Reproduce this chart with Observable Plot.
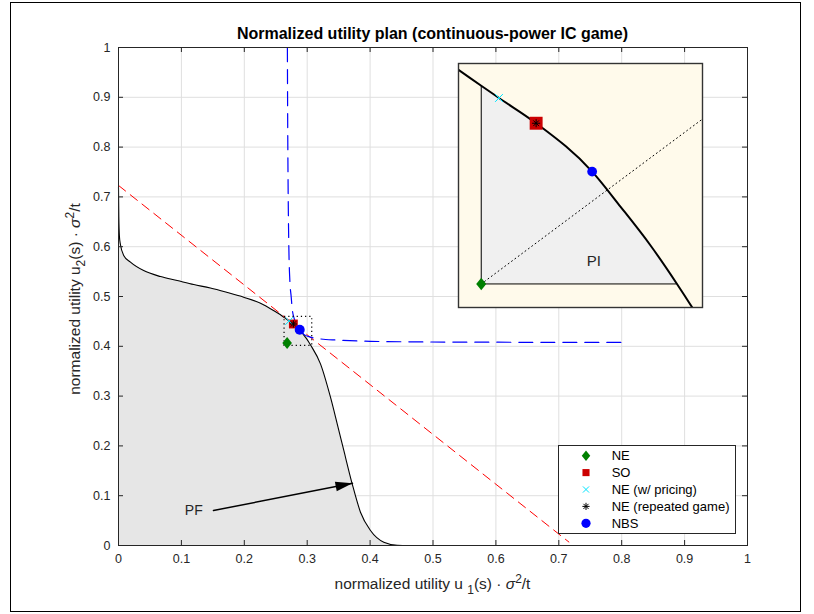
<!DOCTYPE html>
<html><head><meta charset="utf-8">
<script src="https://cdn.jsdelivr.net/npm/d3@7"></script>
<script src="https://cdn.jsdelivr.net/npm/@observablehq/plot@0.6"></script>
<style>
body{margin:0;background:#fff;font-family:"Liberation Sans",Arial,Helvetica,sans-serif;}
#wrap{position:relative;width:814px;height:614px;overflow:hidden;background:#fff;}
#frame{position:absolute;left:10px;top:2px;width:791px;height:610px;border:1.5px solid #000;box-sizing:border-box;pointer-events:none;}
#inset{position:absolute;left:458px;top:63px;width:244px;height:244px;}
#legend{position:absolute;left:558px;top:445px;}
#wrap svg{overflow:visible;}
</style></head><body><div id="wrap"><div id="main"></div><div id="inset"></div><div id="legend"></div><div id="frame"></div></div>
<script>
// ---------------- data ----------------
const ticks = [0, 0.1, 0.2, 0.3, 0.4, 0.5, 0.6, 0.7, 0.8, 0.9, 1];
// Pareto frontier (black curve)
const pfU1 = [0, 0.0005, 0.0015, 0.003, 0.0085, 0.019, 0.040, 0.0668, 0.0933, 0.1197, 0.146, 0.173, 0.199, 0.2258, 0.2523, 0.2590, 0.2640, 0.2681, 0.2713, 0.2780, 0.2881, 0.2932, 0.2986, 0.3034, 0.3061, 0.3211, 0.3370, 0.3477, 0.3582, 0.3715, 0.3847, 0.4006, 0.4218, 0.4430, 0.4600, 0.5300];
const pfU2 = [0.72, 0.66, 0.62, 0.605, 0.582, 0.569, 0.552, 0.540, 0.532, 0.524, 0.517, 0.508, 0.4986, 0.4866, 0.4672, 0.4620, 0.4575, 0.4537, 0.4508, 0.4448, 0.4333, 0.4250, 0.4158, 0.4066, 0.4011, 0.3648, 0.2978, 0.2444, 0.1908, 0.1239, 0.0669, 0.0301, 0.0066, 0.0005, 0, 0];
// Nash product level curve (blue dashed)
const nashU1 = [0.2685, 0.2688, 0.2692, 0.2698, 0.2708, 0.2725, 0.2745, 0.2762, 0.2790, 0.2830, 0.2881, 0.2946, 0.3050, 0.3200, 0.3477, 0.4000, 0.4800, 0.6000, 0.7000, 0.8000];
const nashU2 = [1.0, 0.9, 0.8, 0.7, 0.6, 0.53, 0.50, 0.475, 0.457, 0.443, 0.4333, 0.4240, 0.4185, 0.4150, 0.4125, 0.4100, 0.4088, 0.4082, 0.4079, 0.4077];
// social-welfare line u1 + u2 = const (red dashed)
const sumU1 = [0, 0.716];
const sumU2 = [0.723, 0.007];
// solution points
const pointNames = ["NE", "SO", "NE (w/ pricing)", "NE (repeated game)", "NBS"];
const pointU1 = [0.2681, 0.2780, 0.2713, 0.2780, 0.2881];
const pointU2 = [0.4066, 0.4448, 0.4508, 0.4448, 0.4333];
// zoom window (dotted box / inset limits)
const zoomU1 = [0.264, 0.308];
const zoomU2 = [0.401, 0.459];
// 45-degree line from the disagreement point (inset, dotted)
const diagU1 = [0.2681, 0.3079];
const diagU2 = [0.4066, 0.4457];
// PF annotation arrow
const arrowU1 = [0.151, 0.372];
const arrowU2 = [0.0703, 0.1251];
const pfLabelAt = [0.1197, 0.0703];
const piLabelAt = [0.2884, 0.4121];

// ---------------- layout ----------------
const W = 814, H = 614, mL = 118, mR = 67, mT = 47, mB = 69;
const fw = W - mL - mR, fh = H - mT - mB;
const FONT = "Liberation Sans, Arial, Helvetica, sans-serif";
const TXT = "#262626";

const pf = pfU1.map((u, i) => ({u1: u, u2: pfU2[i]}));
const nash = nashU1.map((u, i) => ({u1: u, u2: nashU2[i]}));
const sumLine = sumU1.map((u, i) => ({u1: u, u2: sumU2[i]}));
const pts = pointNames.map((n, i) => ({name: n, u1: pointU1[i], u2: pointU2[i]}));
const arrowPts = arrowU1.map((u, i) => ({u1: u, u2: arrowU2[i]}));
const diag = diagU1.map((u, i) => ({u1: u, u2: diagU2[i]}));
const box = [{x1: zoomU1[0], x2: zoomU1[1], y1: zoomU2[0], y2: zoomU2[1]}];

const matDiamond = {draw(ctx, size) {
  const r = Math.sqrt(size / Math.PI), w = r * 0.8;
  ctx.moveTo(0, -r); ctx.lineTo(w, 0); ctx.lineTo(0, r); ctx.lineTo(-w, 0); ctx.closePath();
}};
const matAsterisk = {draw(ctx, size) {
  const r = Math.sqrt(size / Math.PI), d = r * 0.7071;
  ctx.moveTo(-r, 0); ctx.lineTo(r, 0);
  ctx.moveTo(0, -r); ctx.lineTo(0, r);
  ctx.moveTo(-d, -d); ctx.lineTo(d, d);
  ctx.moveTo(-d, d); ctx.lineTo(d, -d);
}};
const theta = Math.atan2(-(arrowU2[1] - arrowU2[0]) * fh, (arrowU1[1] - arrowU1[0]) * fw);
const arrowHead = {draw(ctx) {
  const L = 17, hw = 4.8, c = Math.cos(theta), s = Math.sin(theta);
  const bx = -L * c, by = -L * s;
  ctx.moveTo(0, 0); ctx.lineTo(bx - hw * s, by + hw * c); ctx.lineTo(bx + hw * s, by - hw * c); ctx.closePath();
}};

const styles = {
  "NE": {symbol: matDiamond, fill: "#008000", stroke: "none"},
  "SO": {symbol: "square", fill: "#cc0000", stroke: "none"},
  "NE (w/ pricing)": {symbol: "times", fill: "none", stroke: "#00e5ff"},
  "NE (repeated game)": {symbol: matAsterisk, fill: "none", stroke: "#000"},
  "NBS": {symbol: "circle", fill: "#0000ff", stroke: "none"}
};
const sizeMain = {"NE": 6.0, "SO": 5.0, "NE (w/ pricing)": 3.6, "NE (repeated game)": 3.6, "NBS": 5.0};
const sizeInset = {"NE": 6.3, "SO": 7.3, "NE (w/ pricing)": 3.6, "NE (repeated game)": 4.0, "NBS": 4.9};

function markerMarks(sizes) {
  return pts.map(p => Plot.dot([p], {x: "u1", y: "u2", r: sizes[p.name], strokeWidth: 1, ...styles[p.name]}));
}

// ---------------- main plot ----------------
const main = Plot.plot({
  width: W, height: H, marginLeft: mL, marginRight: mR, marginTop: mT, marginBottom: mB,
  style: {fontFamily: FONT, fontSize: "12.5px", color: TXT, background: "transparent"},
  x: {domain: [0, 1], axis: null},
  y: {domain: [0, 1], axis: null},
  marks: [
    Plot.gridX(ticks, {stroke: "#dfdfdf", strokeOpacity: 1}),
    Plot.gridY(ticks, {stroke: "#dfdfdf", strokeOpacity: 1}),
    Plot.areaY(pf, {x: "u1", y: "u2", fill: "#e6e6e6", curve: "monotone-x"}),
    Plot.line(pf, {x: "u1", y: "u2", stroke: "#000", strokeWidth: 1.1, curve: "monotone-x"}),
    Plot.line(sumLine, {x: "u1", y: "u2", stroke: "#ff0000", strokeWidth: 1, strokeDasharray: "9,6"}),
    Plot.line(nash, {x: "u1", y: "u2", stroke: "#0000ff", strokeWidth: 1.2, strokeDasharray: "14,8", curve: "monotone-x"}),
    Plot.rect(box, {x1: "x1", x2: "x2", y1: "y1", y2: "y2", fill: "none", stroke: "#000", strokeWidth: 1.2, strokeDasharray: "1.2,3"}),
    Plot.line(arrowPts, {x: "u1", y: "u2", stroke: "#000", strokeWidth: 1.5}),
    Plot.dot([arrowPts[1]], {x: "u1", y: "u2", symbol: arrowHead, fill: "#000", stroke: "none", r: 5}),
    Plot.text([pfLabelAt], {x: d => d[0], y: d => d[1], text: () => "PF", fontSize: 14, fill: TXT, textAnchor: "middle"}),
    ...markerMarks(sizeMain),
    Plot.frame({stroke: TXT, strokeWidth: 1}),
    Plot.tickX(ticks, {x: d => d, insetTop: fh - 5, stroke: TXT}),
    Plot.tickX(ticks, {x: d => d, insetBottom: fh - 5, stroke: TXT}),
    Plot.tickY(ticks, {y: d => d, insetRight: fw - 5, stroke: TXT}),
    Plot.tickY(ticks, {y: d => d, insetLeft: fw - 5, stroke: TXT}),
    Plot.axisX(ticks, {tickSize: 0, tickPadding: 9, tickFormat: d => String(d), label: null, fill: TXT}),
    Plot.axisY(ticks, {tickSize: 0, tickPadding: 8, tickFormat: d => String(d), label: null, fill: TXT})
  ]
});
document.getElementById("main").appendChild(main);

const sv = d3.select(main);
sv.append("text").attr("x", mL + fw / 2).attr("y", 39).attr("text-anchor", "middle")
  .attr("font-family", FONT).attr("font-size", 16).attr("font-weight", "bold").attr("fill", "#000")
  .text("Normalized utility plan (continuous-power IC game)");

const xl = sv.append("text").attr("x", mL + fw / 2).attr("y", 589).attr("text-anchor", "middle")
  .attr("font-family", FONT).attr("font-size", 15.5).attr("fill", TXT);
xl.append("tspan").text("normalized utility u ");
xl.append("tspan").attr("dy", 5).attr("font-size", 12).text("1");
xl.append("tspan").attr("dy", -5).text("(s) \u00b7 ");
xl.append("tspan").attr("font-style", "italic").text("\u03c3");
xl.append("tspan").attr("dy", -6).attr("font-size", 12).text("2");
xl.append("tspan").attr("dy", 6).text("/t");

const yl = sv.append("text").attr("transform", `translate(80,${mT + fh / 2 + 3}) rotate(-90)`).attr("text-anchor", "middle")
  .attr("font-family", FONT).attr("font-size", 15.5).attr("fill", TXT);
yl.append("tspan").text("normalized utility u");
yl.append("tspan").attr("dy", 5).attr("font-size", 12).text("2");
yl.append("tspan").attr("dy", -5).text("(s) \u00b7 ");
yl.append("tspan").attr("font-style", "italic").text("\u03c3");
yl.append("tspan").attr("dy", -6).attr("font-size", 12).text("2");
yl.append("tspan").attr("dy", 6).text("/t");

// ---------------- inset ----------------
const ne = pts[0];
const piPts = pf.filter(d => d.u1 >= ne.u1 && d.u2 >= ne.u2);
const inset = Plot.plot({
  width: 244, height: 244, margin: 0,
  style: {fontFamily: FONT, background: "#fffaeb", color: TXT},
  x: {domain: zoomU1, axis: null},
  y: {domain: zoomU2, axis: null},
  marks: [
    Plot.areaY(piPts, {x: "u1", y1: ne.u2, y2: "u2", fill: "#f0f0f0", curve: "monotone-x"}),
    Plot.ruleX([ne.u1], {y1: ne.u2, y2: piPts[0].u2, stroke: "#000", strokeWidth: 1}),
    Plot.ruleY([ne.u2], {x1: ne.u1, x2: piPts[piPts.length - 1].u1, stroke: "#000", strokeWidth: 1}),
    Plot.line(diag, {x: "u1", y: "u2", stroke: "#000", strokeWidth: 1, strokeDasharray: "1,3.2"}),
    Plot.line(pf, {x: "u1", y: "u2", stroke: "#000", strokeWidth: 2, curve: "monotone-x", clip: true}),
    Plot.text([piLabelAt], {x: d => d[0], y: d => d[1], text: () => "PI", fontSize: 15, fill: TXT, textAnchor: "middle"}),
    ...markerMarks(sizeInset),
    Plot.frame({stroke: "#333", strokeWidth: 1.4})
  ]
});
document.getElementById("inset").appendChild(inset);

// ---------------- legend ----------------
const lg = d3.select("#legend").append("svg").attr("width", 178).attr("height", 89);
lg.append("rect").attr("x", 0.5).attr("y", 0.5).attr("width", 177).attr("height", 88)
  .attr("fill", "#fff").attr("stroke", TXT);
const legSize = {"NE": 5.3, "SO": 4.0, "NE (w/ pricing)": 2.9, "NE (repeated game)": 3.6, "NBS": 4.6};
const symMap = {square: d3.symbolSquare, times: d3.symbolTimes, circle: d3.symbolCircle};
pointNames.forEach((n, i) => {
  const st = styles[n];
  const y = 10.7 + i * 16.9;
  const type = typeof st.symbol === "string" ? symMap[st.symbol] : st.symbol;
  const r = legSize[n];
  lg.append("path").attr("transform", `translate(28,${y})`)
    .attr("d", d3.symbol(type, Math.PI * r * r)())
    .attr("fill", st.fill).attr("stroke", st.stroke).attr("stroke-width", 1);
  lg.append("text").attr("x", 53.7).attr("y", y + 4.6).attr("font-family", FONT)
    .attr("font-size", 13).attr("fill", "#000").text(n);
});
</script></body></html>
